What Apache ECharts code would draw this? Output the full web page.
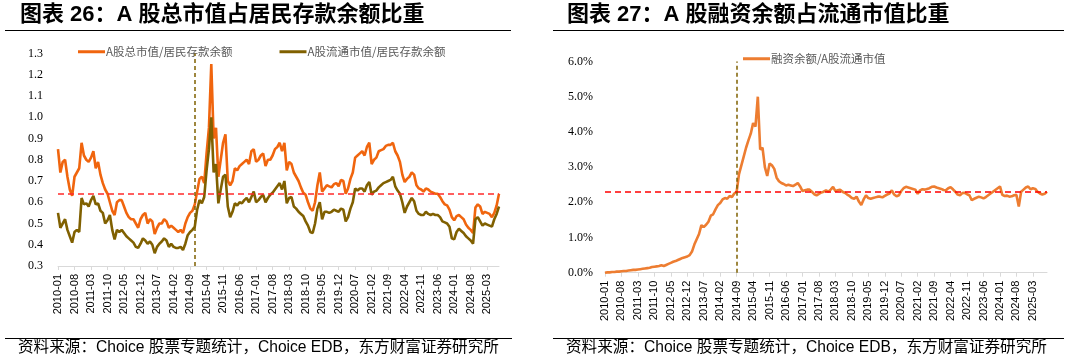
<!DOCTYPE html>
<html><head><meta charset="utf-8">
<script src="https://cdn.jsdelivr.net/npm/echarts@6/dist/echarts.min.js"></script>
<style>html,body{margin:0;padding:0;background:#fff;}#c{width:1072px;height:363px;}</style>
</head><body><div id="c"></div>
<script>
// ---------- data ----------
const titleLeft = '图表 26：A 股总市值占居民存款余额比重';
const titleRight = '图表 27：A 股融资余额占流通市值比重';
const sourceText = '资料来源：Choice 股票专题统计，Choice EDB，东方财富证券研究所';
const seriesNameTotal = 'A股总市值/居民存款余额';
const seriesNameFloat = 'A股流通市值/居民存款余额';
const seriesNameMargin = '融资余额/A股流通市值';

// monthly categories 2010-01 ... (left ends 2025-08, right ends 2025-09)
function monthList(n){const a=[];for(let i=0;i<n;i++){const y=2010+Math.floor(i/12),m=i%12+1;a.push(y+'-'+(m<10?'0'+m:m));}return a;}
const categoriesLeft = monthList(188);
const categoriesRight = monthList(189);

const totalCapRatio = [
0.85,0.74,0.79,0.80,0.72,0.66,0.63,0.72,0.74,0.76,
0.88,0.82,0.80,0.79,0.81,0.84,0.76,0.79,0.73,0.69,
0.66,0.64,0.60,0.56,0.54,0.60,0.61,0.61,0.58,0.55,
0.53,0.52,0.52,0.50,0.48,0.52,0.54,0.55,0.50,0.52,
0.51,0.45,0.48,0.50,0.50,0.52,0.51,0.48,0.49,0.48,
0.47,0.46,0.47,0.455,0.50,0.53,0.55,0.56,0.59,0.65,
0.71,0.72,0.69,0.83,0.95,1.25,0.90,0.95,0.72,0.80,
0.88,0.92,0.70,0.68,0.70,0.76,0.75,0.77,0.78,0.79,
0.80,0.78,0.84,0.85,0.79,0.80,0.82,0.83,0.77,0.80,
0.80,0.82,0.85,0.86,0.88,0.84,0.88,0.75,0.79,0.78,
0.74,0.72,0.70,0.67,0.645,0.635,0.60,0.57,0.56,0.60,
0.68,0.74,0.65,0.665,0.68,0.675,0.67,0.685,0.69,0.675,
0.705,0.70,0.64,0.665,0.71,0.74,0.81,0.82,0.83,0.84,
0.82,0.86,0.88,0.78,0.80,0.81,0.84,0.845,0.85,0.865,
0.87,0.87,0.88,0.84,0.82,0.79,0.73,0.695,0.71,0.72,
0.74,0.73,0.68,0.665,0.66,0.65,0.665,0.66,0.65,0.645,
0.64,0.64,0.625,0.605,0.59,0.585,0.565,0.53,0.515,0.535,
0.54,0.53,0.52,0.495,0.48,0.47,0.455,0.575,0.59,0.58,
0.545,0.555,0.55,0.545,0.53,0.55,0.585,0.64];

const floatCapRatio = [
0.55,0.48,0.50,0.52,0.47,0.44,0.41,0.46,0.47,0.46,
0.62,0.59,0.595,0.58,0.61,0.63,0.59,0.595,0.56,0.55,
0.50,0.515,0.54,0.47,0.425,0.47,0.46,0.47,0.455,0.44,
0.43,0.42,0.41,0.39,0.385,0.405,0.43,0.42,0.405,0.415,
0.40,0.36,0.39,0.405,0.415,0.43,0.42,0.39,0.405,0.39,
0.385,0.385,0.39,0.375,0.405,0.445,0.46,0.47,0.485,0.565,
0.61,0.595,0.625,0.75,0.85,1.00,0.74,0.78,0.595,0.66,
0.72,0.73,0.58,0.53,0.555,0.595,0.585,0.60,0.595,0.61,
0.62,0.60,0.625,0.65,0.60,0.61,0.625,0.635,0.60,0.62,
0.635,0.645,0.66,0.675,0.69,0.66,0.70,0.595,0.62,0.625,
0.58,0.57,0.555,0.545,0.535,0.51,0.49,0.46,0.455,0.50,
0.57,0.60,0.52,0.555,0.555,0.55,0.555,0.565,0.56,0.555,
0.57,0.565,0.51,0.53,0.57,0.60,0.665,0.655,0.665,0.665,
0.65,0.68,0.695,0.635,0.65,0.655,0.67,0.68,0.69,0.695,
0.70,0.705,0.72,0.675,0.655,0.64,0.60,0.55,0.58,0.60,
0.62,0.605,0.56,0.545,0.54,0.54,0.555,0.545,0.54,0.545,
0.54,0.54,0.53,0.51,0.505,0.50,0.485,0.43,0.425,0.46,
0.475,0.465,0.455,0.44,0.43,0.42,0.405,0.52,0.53,0.51,
0.49,0.50,0.495,0.49,0.485,0.52,0.545,0.58];

const marginRatioPct = [
0.00,0.01,0.01,0.02,0.02,0.03,0.03,0.04,0.05,0.05,
0.06,0.07,0.08,0.08,0.09,0.10,0.11,0.12,0.13,0.14,
0.16,0.17,0.18,0.19,0.21,0.19,0.22,0.25,0.28,0.31,
0.33,0.36,0.39,0.42,0.44,0.46,0.50,0.60,0.80,0.95,
1.10,1.35,1.30,1.36,1.45,1.62,1.66,1.80,1.92,1.98,
2.08,2.12,2.10,2.18,2.15,2.25,2.30,2.80,3.05,3.30,
3.55,3.76,3.95,4.25,4.15,5.00,3.50,3.55,3.00,2.75,
3.10,3.05,2.95,2.70,2.60,2.55,2.52,2.48,2.50,2.48,
2.46,2.50,2.55,2.45,2.32,2.34,2.36,2.36,2.30,2.23,
2.20,2.24,2.28,2.30,2.34,2.30,2.36,2.44,2.32,2.34,
2.36,2.30,2.27,2.22,2.18,2.12,2.10,2.16,2.02,1.92,
2.08,2.20,2.12,2.10,2.12,2.14,2.16,2.16,2.14,2.18,
2.22,2.25,2.34,2.22,2.17,2.20,2.32,2.40,2.44,2.42,
2.40,2.38,2.36,2.24,2.34,2.37,2.36,2.38,2.40,2.44,
2.45,2.42,2.40,2.38,2.35,2.34,2.40,2.43,2.37,2.30,
2.22,2.20,2.26,2.27,2.23,2.20,2.06,2.10,2.13,2.16,
2.14,2.11,2.15,2.20,2.25,2.30,2.35,2.40,2.45,2.21,
2.18,2.19,2.16,2.17,2.20,2.21,1.88,2.30,2.36,2.42,
2.45,2.37,2.40,2.38,2.30,2.25,2.22,2.24,2.30];

const leftRefLevel = 0.64;
const leftRefMonth = '2014-11';
const rightRefLevel = 2.31;
const rightRefMonth = '2014-09';

// ---------- chart ----------
const FS = 'Liberation Sans, Arial, Noto Sans CJK SC, sans-serif';
const FSERIF = 'Liberation Serif, Times New Roman, serif';
const chart = echarts.init(document.getElementById('c'), null, {renderer:'canvas'});

function xAxisCfg(cats, gridIndex){
  return {type:'category', gridIndex, data:cats, boundaryGap:false,
    axisLine:{lineStyle:{color:'#d9d9d9', width:1}},
    axisTick:{show:true, interval:6, length:4, lineStyle:{color:'#d9d9d9'}},
    axisLabel:{interval:6, rotate:90, margin:8, fontSize:11, color:'#000', fontFamily:FS, hideOverlap:false},
    splitLine:{show:false}};
}
const dashRed = {color:'#FF2A2A', type:[6,4], width:1.5};
const dashOlive = {color:'#7F6000', type:[4,3], width:1.5};

chart.setOption({
  animation:false,
  grid:[
    {left:58, right:1072-499, top:53.5, bottom:363-266},
    {left:605, right:1072-1047, top:61.5, bottom:363-272.7}
  ],
  xAxis:[xAxisCfg(categoriesLeft,0), xAxisCfg(categoriesRight,1)],
  yAxis:[
    {type:'value', gridIndex:0, min:0.3, max:1.3, interval:0.1,
      axisLine:{show:false}, axisTick:{show:false}, splitLine:{show:false},
      axisLabel:{margin:15, fontSize:12, color:'#000', fontFamily:FSERIF, formatter:v=>v.toFixed(1)}},
    {type:'value', gridIndex:1, min:0, max:6, interval:1,
      axisLine:{show:false}, axisTick:{show:false}, splitLine:{show:false},
      axisLabel:{margin:12, fontSize:12, color:'#000', fontFamily:FSERIF, formatter:v=>v.toFixed(1)+'%'}}
  ],
  legend:[
    {data:[seriesNameTotal, seriesNameFloat], left:73, top:41, icon:'rect', itemWidth:27, itemHeight:3, itemGap:47,
      textStyle:{fontSize:11.5, color:'#595959', fontFamily:'Noto Sans CJK SC, sans-serif', padding:[0,0,0,-4]}},
    {data:[seriesNameMargin], left:738, top:48, icon:'rect', itemWidth:27, itemHeight:3,
      textStyle:{fontSize:11.5, color:'#595959', fontFamily:'Noto Sans CJK SC, sans-serif', padding:[0,0,0,-4]}}
  ],
  series:[
    {name:seriesNameTotal, type:'line', xAxisIndex:0, yAxisIndex:0, data:totalCapRatio, showSymbol:false, symbol:'none',
      lineStyle:{color:'#F0650E', width:2.6}, itemStyle:{color:'#F0650E'}, z:3,
      markLine:{silent:true, symbol:'none', label:{show:false}, z:5,
        data:[{yAxis:leftRefLevel, lineStyle:dashRed},{xAxis:leftRefMonth, lineStyle:dashOlive}]}},
    {name:seriesNameFloat, type:'line', xAxisIndex:0, yAxisIndex:0, data:floatCapRatio, showSymbol:false, symbol:'none',
      lineStyle:{color:'#806000', width:2.6}, itemStyle:{color:'#806000'}, z:4},
    {name:seriesNameMargin, type:'line', xAxisIndex:1, yAxisIndex:1, data:marginRatioPct, showSymbol:false, symbol:'none',
      lineStyle:{color:'#ED7D31', width:2.6}, itemStyle:{color:'#ED7D31'}, z:3,
      markLine:{silent:true, symbol:'none', label:{show:false}, z:5,
        data:[{yAxis:rightRefLevel, lineStyle:{color:'#FF0000', type:[6,4], width:1.5}},{xAxis:rightRefMonth, lineStyle:dashOlive}]}}
  ],
  graphic:[
    {type:'text', left:20, top:4, style:{text:titleLeft, font:'bold 22px '+FS, fill:'#000'}},
    {type:'text', left:567, top:4, style:{text:titleRight, font:'bold 22px '+FS, fill:'#000'}},
    {type:'line', shape:{x1:5, y1:30.5, x2:511, y2:30.5}, style:{stroke:'#000', lineWidth:1.2}},
    {type:'line', shape:{x1:553, y1:30.5, x2:1064, y2:30.5}, style:{stroke:'#000', lineWidth:1.2}},
    {type:'line', shape:{x1:5, y1:338.5, x2:512, y2:338.5}, style:{stroke:'#000', lineWidth:1.2}},
    {type:'line', shape:{x1:553, y1:338.5, x2:1064, y2:338.5}, style:{stroke:'#000', lineWidth:1.2}},
    {type:'text', left:18, top:340, style:{text:sourceText, font:'15.6px '+FS, fill:'#000'}},
    {type:'text', left:566, top:340, style:{text:sourceText, font:'15.6px '+FS, fill:'#000'}}
  ]
});
</script></body></html>
